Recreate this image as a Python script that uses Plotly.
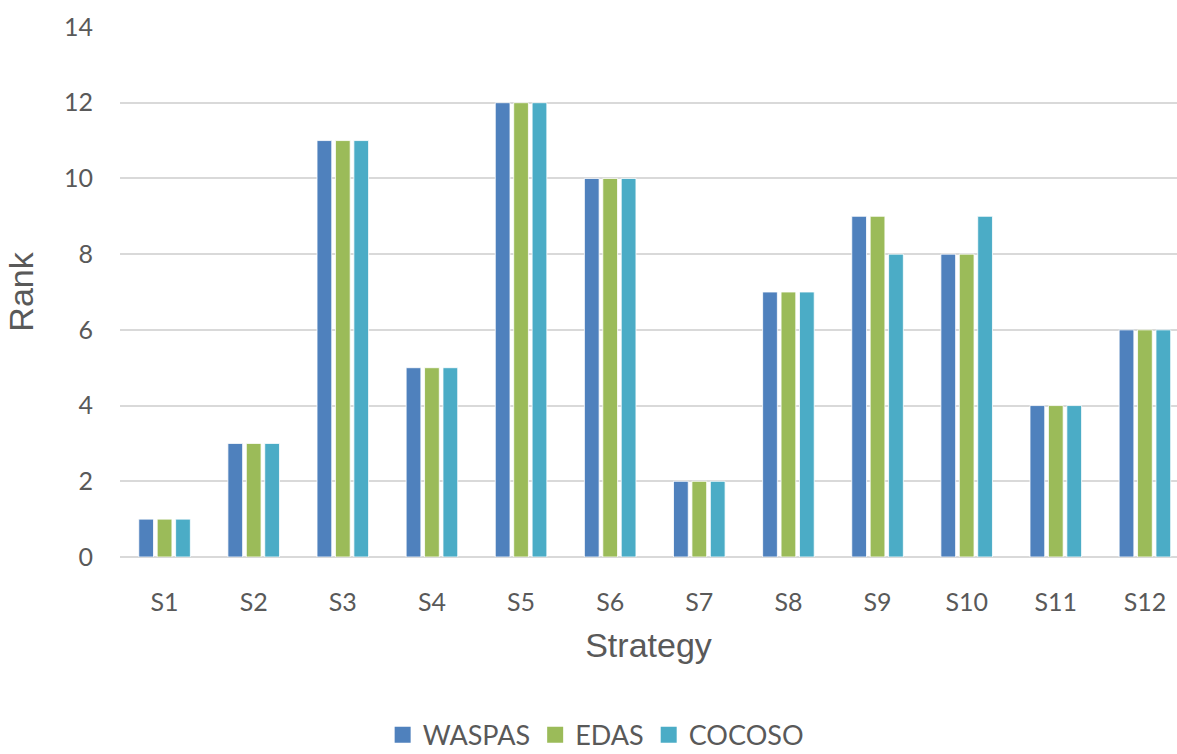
import plotly.graph_objects as go

strategies = ["S1", "S2", "S3", "S4", "S5", "S6", "S7", "S8", "S9", "S10", "S11", "S12"]
waspas = [1, 3, 11, 5, 12, 10, 2, 7, 9, 8, 4, 6]
edas = [1, 3, 11, 5, 12, 10, 2, 7, 9, 8, 4, 6]
cocoso = [1, 3, 11, 5, 12, 10, 2, 7, 8, 9, 4, 6]

series = [
    ("WASPAS", waspas, "#4F81BD"),
    ("EDAS", edas, "#9BBB59"),
    ("COCOSO", cocoso, "#4BACC6"),
]

fig = go.Figure()
for name, vals, color in series:
    fig.add_trace(go.Bar(
        x=strategies, y=vals, name=name, legendgroup=name, showlegend=False,
        marker=dict(color=color, line=dict(color="rgba(255,255,255,0.8)", width=1)),
    ))
# square swatches for the legend
for name, vals, color in series:
    fig.add_trace(go.Scatter(
        x=[None], y=[None], mode="markers", name=name, legendgroup=name,
        marker=dict(symbol="square", size=18, color=color),
    ))

tick_font = dict(family="Lato, Open Sans, sans-serif", size=25, color="#595959")
title_family = "Liberation Sans, Arial, sans-serif"

fig.update_layout(
    width=1177, height=754,
    margin=dict(l=120, r=0, t=27, b=197, autoexpand=False),
    paper_bgcolor="white", plot_bgcolor="white",
    barmode="group", bargap=0.38, bargroupgap=0.2,
    showlegend=True,
    legend=dict(
        orientation="h", x=0.45, xanchor="center", y=-0.336, yanchor="middle",
        font=dict(family="Lato, Open Sans, sans-serif", size=27, color="#595959"),
        itemwidth=30, traceorder="normal", itemsizing="trace",
    ),
    xaxis=dict(
        range=[-0.5, 11.36], showgrid=False, zeroline=False, automargin=False,
        tickfont=tick_font, ticklabelstandoff=28,
        showline=False,
        title=dict(text="Strategy", font=dict(family=title_family, size=34, color="#595959"), standoff=18),
    ),
    yaxis=dict(
        range=[0, 14], dtick=2, showgrid=True, gridcolor="#D9D9D9", gridwidth=1.5,
        zeroline=True, zerolinecolor="#D9D9D9", zerolinewidth=1.5, automargin=False,
        tickfont=tick_font, ticklabelstandoff=26,
        title=dict(text="Rank", font=dict(family=title_family, size=34, color="#595959"), standoff=20),
    ),
)

fig.write_html("out.html")
